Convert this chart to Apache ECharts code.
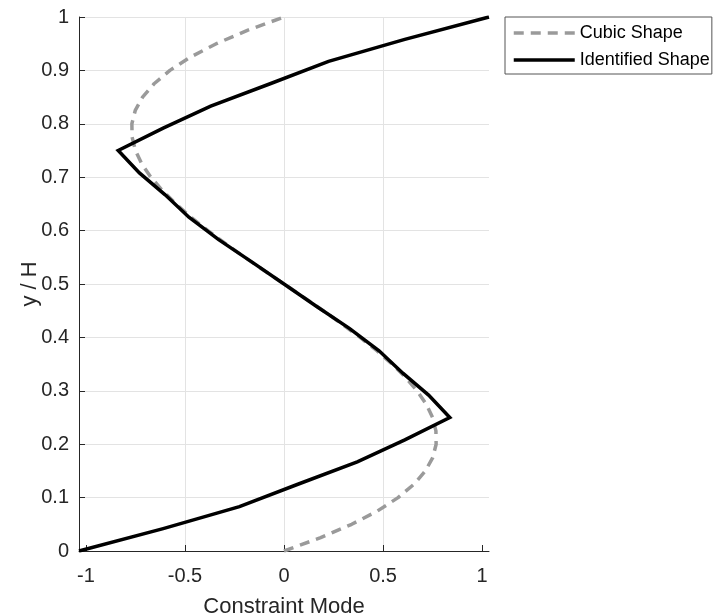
<!DOCTYPE html>
<html>
<head>
<meta charset="utf-8">
<script src="https://cdn.jsdelivr.net/npm/echarts@6/dist/echarts.min.js"></script>
<style>
  html, body { margin: 0; padding: 0; background: #fff; }
  #chart { width: 715px; height: 616px; }
</style>
</head>
<body>
<div id="chart"></div>
<script>
// Normalised height y/H for each sample of the two mode shapes
var cubicY = [0, 0.025, 0.05, 0.075, 0.1, 0.125, 0.15, 0.175, 0.2, 0.225, 0.25,
  0.275, 0.3, 0.325, 0.35, 0.375, 0.4, 0.425, 0.45, 0.475, 0.5,
  0.525, 0.55, 0.575, 0.6, 0.625, 0.65, 0.675, 0.7, 0.725, 0.75,
  0.775, 0.8, 0.825, 0.85, 0.875, 0.9, 0.925, 0.95, 0.975, 1];
var cubicX = [0, 0.185, 0.342, 0.472, 0.576, 0.656, 0.714, 0.751, 0.768, 0.767, 0.75,
  0.718, 0.672, 0.614, 0.546, 0.469, 0.384, 0.293, 0.198, 0.1, 0,
  -0.1, -0.198, -0.293, -0.384, -0.469, -0.546, -0.614, -0.672, -0.718, -0.75,
  -0.767, -0.768, -0.751, -0.714, -0.656, -0.576, -0.472, -0.342, -0.185, 0];

var identY = [0, 0.042, 0.083, 0.125, 0.167, 0.208, 0.25, 0.292, 0.333, 0.375, 0.417, 0.458, 0.5,
  0.542, 0.583, 0.625, 0.667, 0.708, 0.75, 0.792, 0.833, 0.875, 0.917, 0.958, 1];
var identX = [-1.035, -0.61, -0.225, 0.07, 0.37, 0.61, 0.837, 0.73, 0.6, 0.48, 0.33, 0.165, 0,
  -0.165, -0.33, -0.48, -0.6, -0.73, -0.837, -0.61, -0.37, -0.07, 0.225, 0.61, 1.035];

var xTicks = [-1, -0.5, 0, 0.5, 1];
var seriesNames = ['Cubic Shape', 'Identified Shape'];

function pairs(xs, ys) {
  return xs.map(function (x, i) { return [x, ys[i]]; });
}

var FONT = 'Liberation Sans, Arial, Helvetica, sans-serif';
var INK = '#262626';

var chart = echarts.init(document.getElementById('chart'), null, { renderer: 'canvas' });
chart.setOption({
  animation: false,
  backgroundColor: '#fff',
  grid: { left: 79, right: 226, top: 17, bottom: 65, containLabel: false, outerBoundsMode: 'none' },
  xAxis: {
    type: 'value',
    min: -1.035,
    max: 1.035,
    name: 'Constraint Mode',
    nameLocation: 'middle',
    nameGap: 45,
    nameMoveOverlap: false,
    nameTextStyle: { fontFamily: FONT, fontSize: 22, color: INK },
    axisLine: { show: true, onZero: false, lineStyle: { color: INK, width: 1 } },
    axisTick: { show: true, inside: true, length: 6, customValues: xTicks, lineStyle: { color: INK } },
    axisLabel: {
      customValues: xTicks,
      fontFamily: FONT, fontSize: 20, color: INK, margin: 15,
      formatter: function (v) { return String(v); }
    },
    splitLine: { show: true, showMinLine: false, showMaxLine: false, lineStyle: { color: '#e3e3e3', width: 1 } }
  },
  yAxis: {
    type: 'value',
    min: 0,
    max: 1,
    interval: 0.1,
    name: 'y / H',
    nameLocation: 'middle',
    nameGap: 38,
    nameMoveOverlap: false,
    nameTextStyle: { fontFamily: FONT, fontSize: 22, color: INK },
    axisLine: { show: true, onZero: false, lineStyle: { color: INK, width: 1 } },
    axisTick: { show: true, inside: true, length: 6, lineStyle: { color: INK } },
    axisLabel: {
      fontFamily: FONT, fontSize: 20, color: INK, margin: 10,
      formatter: function (v) { return String(Math.round(v * 10) / 10); }
    },
    splitLine: { show: true, showMinLine: false, lineStyle: { color: '#e3e3e3', width: 1 } }
  },
  legend: {
    orient: 'vertical',
    left: 505,
    top: 17,
    padding: [6, 2, 4, 7],
    itemGap: 7,
    itemWidth: 61,
    itemHeight: 14,
    borderColor: '#555',
    borderWidth: 1,
    backgroundColor: '#fff',
    itemStyle: { opacity: 0 },
    lineStyle: { width: 3.5 },
    textStyle: { fontFamily: FONT, fontSize: 18, color: '#000', lineHeight: 20 },
    data: seriesNames
  },
  series: [
    {
      name: seriesNames[0],
      type: 'line',
      data: pairs(cubicX, cubicY),
      showSymbol: false,
      symbol: 'none',
      lineStyle: { color: '#9a9a9a', width: 3.5, type: [10, 7] },
      itemStyle: { color: '#9a9a9a' },
      z: 2
    },
    {
      name: seriesNames[1],
      type: 'line',
      data: pairs(identX, identY),
      showSymbol: false,
      symbol: 'none',
      lineStyle: { color: '#000', width: 3.5, join: 'miter' },
      itemStyle: { color: '#000' },
      z: 3
    }
  ]
});
</script>
</body>
</html>
